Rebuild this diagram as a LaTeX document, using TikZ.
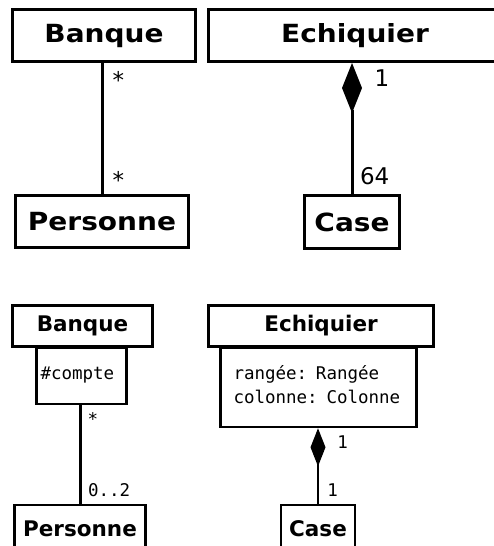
\documentclass[tikz,border=0pt]{standalone}
\usepackage{fontspec}
\setmainfont{DejaVu Sans}
\setmonofont{DejaVu Sans Mono}
\usetikzlibrary{arrows.meta}

\newcommand{\wide}[1]{\scalebox{1.12}[1]{#1}}

\begin{document}
\begin{tikzpicture}[
    x=1pt, y=-1pt,
    bigclass/.style={draw, line width=3pt, inner sep=0pt, minimum height=52pt, font=\bfseries\fontsize{25}{30}\selectfont},
    class/.style={draw, line width=2.8pt, inner sep=0pt, minimum height=41pt, font=\bfseries\fontsize{21.5}{26}\selectfont},
    attr/.style={draw, line width=2.8pt, inner ysep=0pt, align=left, font=\ttfamily\fontsize{17.5}{24}\selectfont},
    link/.style={line width=3pt},
    bigcompo/.style={line width=3pt, {Diamond[length=50pt, width=20pt, line width=0pt]}-},
    compo/.style={line width=2.8pt, {Diamond[length=38pt, width=15pt, line width=0pt]}-},
    mult/.style={inner sep=0pt, font=\fontsize{23}{27}\selectfont},
    multtt/.style={inner sep=0pt, font=\ttfamily\fontsize{17.5}{21}\selectfont},
]
\useasboundingbox (0,0) rectangle (494,546);
\clip (0,0) rectangle (494,546);

% association, plain classes
\node[bigclass, minimum width=183pt] (banqueA) at (104,35.5) {\wide{Banque}};
\node[bigclass, minimum width=173pt] (personneA) at (102,221.5) {\wide{Personne}};
\draw[link] (banqueA.south -| personneA.north) -- (personneA.north)
    node[mult, at start, anchor=north west, xshift=9pt, yshift=-6.5pt] {*}
    node[mult, at end, anchor=base west, xshift=9pt, yshift=6pt] {*};

% composition, plain classes
\node[bigclass, minimum width=293pt] (echiquierA) at (355,35.5) {\wide{Echiquier}};
\node[bigclass, minimum width=95pt, minimum height=53pt] (caseA) at (352,222) {\wide{Case}};
\draw[bigcompo] (echiquierA.south -| caseA.north) -- (caseA.north)
    node[mult, at start, anchor=north west, xshift=21pt, yshift=-5.5pt] {1}
    node[mult, at end, anchor=base west, xshift=6.5pt, yshift=9.5pt] {64};

% association with attribute
\node[class, minimum width=140pt] (banqueB) at (82.5,326) {Banque};
\node[attr, anchor=north, inner xsep=4pt, text width=82pt, text height=31.5pt, text depth=24.5pt] (banqueAttr) at (81.5,346.5) {\#compte};
\node[class, minimum width=131pt, minimum height=48pt] (personneB) at (80,529) {Personne};
\draw[link] (banqueAttr.south -| personneB.north) -- (personneB.north)
    node[multtt, at start, anchor=north west, xshift=6pt, yshift=-5.5pt] {*}
    node[multtt, at end, anchor=base west, xshift=6.5pt, yshift=7pt] {0..2};

% composition with attributes
\node[class, minimum width=225pt] (echiquierB) at (321,326) {Echiquier};
\node[attr, anchor=north, inner xsep=13pt, text width=170pt, text height=31.5pt, text depth=47.5pt] (echiquierAttr) at (318.5,346.5) {rangée: Rangée\\colonne: Colonne};
\node[class, minimum width=74pt, minimum height=48pt] (caseB) at (318,529) {Case};
\draw[compo] (echiquierAttr.south -| caseB.north) -- (caseB.north)
    node[multtt, at start, anchor=north west, xshift=18pt, yshift=-6.5pt] {1}
    node[multtt, at end, anchor=base west, xshift=8pt, yshift=7pt] {1};
\end{tikzpicture}
\end{document}
